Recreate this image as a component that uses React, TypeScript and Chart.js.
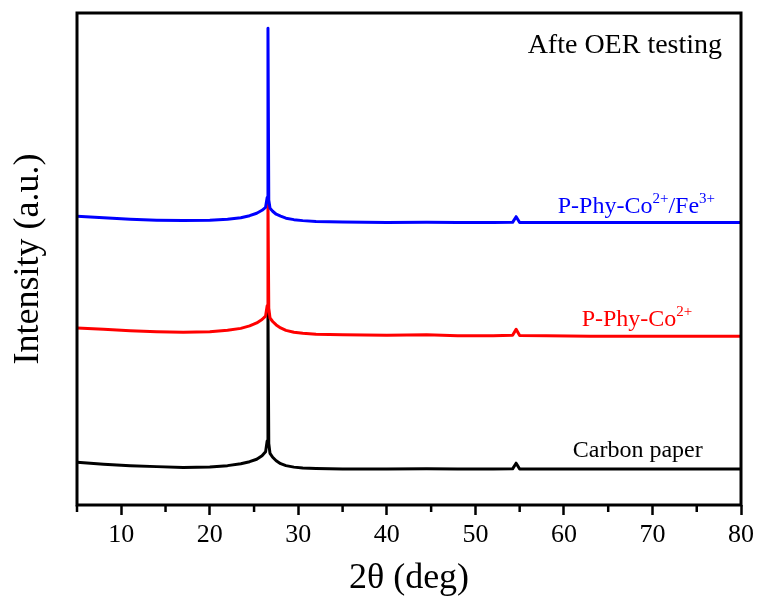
import React, { useEffect, useRef } from 'react';
import { Chart, registerables } from 'chart.js';

Chart.register(...registerables);

const TWO_THETA = [5, 8, 11, 14, 17, 20, 22, 23.5, 24.5, 25.3, 25.9, 26.3, 26.48, 26.57, 26.66, 26.8, 27.1, 27.5, 28.0, 28.6, 29.5, 30.5, 32, 35, 40, 44.5, 48, 52, 54.2, 54.6, 55.0, 58, 63, 68, 73, 77, 80];

const CARBON = [8.7, 8.3, 8.0, 7.8, 7.6, 7.7, 8.0, 8.4, 8.8, 9.3, 10.0, 10.8, 13, 40, 12.5, 10.5, 9.7, 9.0, 8.4, 8.0, 7.7, 7.5, 7.4, 7.3, 7.3, 7.35, 7.3, 7.3, 7.35, 8.5, 7.3, 7.3, 7.3, 7.3, 7.3, 7.3, 7.3];
const CO = [36.0, 35.7, 35.4, 35.2, 35.1, 35.2, 35.5, 35.9, 36.4, 37.0, 37.7, 38.4, 40.5, 62, 40, 38.0, 37.3, 36.6, 36.0, 35.5, 35.1, 34.9, 34.7, 34.6, 34.5, 34.6, 34.4, 34.4, 34.5, 35.7, 34.45, 34.4, 34.3, 34.3, 34.3, 34.3, 34.3];
const COFE = [58.7, 58.4, 58.1, 57.9, 57.8, 57.9, 58.1, 58.4, 58.8, 59.3, 59.9, 60.5, 62.5, 96.9, 62.0, 60.3, 59.7, 59.1, 58.7, 58.3, 58.0, 57.8, 57.6, 57.5, 57.4, 57.45, 57.4, 57.4, 57.45, 58.6, 57.4, 57.4, 57.4, 57.4, 57.4, 57.4, 57.4];

const X_TICKS = [10, 20, 30, 40, 50, 60, 70, 80];
const X_MINOR = [5, 15, 25, 35, 45, 55, 65, 75];

const SERIF = '"Liberation Serif", "Times New Roman", serif';

type Part = { t: string; sup?: boolean };
const LABELS: { parts: Part[]; x: number; y: number; color: string; size: number }[] = [
  { parts: [{ t: 'Afte OER testing' }], x: 55.9, y: 91.9, color: '#000000', size: 28 },
  { parts: [{ t: 'P-Phy-Co' }, { t: '2+', sup: true }, { t: '/Fe' }, { t: '3+', sup: true }], x: 59.3, y: 59.35, color: '#0000ff', size: 24 },
  { parts: [{ t: 'P-Phy-Co' }, { t: '2+', sup: true }], x: 62.0, y: 36.4, color: '#ff0000', size: 24 },
  { parts: [{ t: 'Carbon paper' }], x: 61.0, y: 9.8, color: '#000000', size: 24 },
];

const framePlugin = {
  id: 'frame',
  afterDatasetsDraw(chart: any) {
    const { ctx, chartArea } = chart;
    const xs = chart.scales.x;
    const ys = chart.scales.y;
    ctx.save();
    ctx.strokeStyle = '#000';
    ctx.lineWidth = 3;
    ctx.strokeRect(chartArea.left, chartArea.top, chartArea.right - chartArea.left, chartArea.bottom - chartArea.top);
    ctx.lineWidth = 2.5;
    for (const v of X_MINOR) {
      const px = xs.getPixelForValue(v);
      ctx.beginPath();
      ctx.moveTo(px, chartArea.bottom);
      ctx.lineTo(px, chartArea.bottom + 7);
      ctx.stroke();
    }
    ctx.textAlign = 'left';
    ctx.textBaseline = 'alphabetic';
    for (const lab of LABELS) {
      let px = xs.getPixelForValue(lab.x);
      const py = ys.getPixelForValue(lab.y);
      ctx.fillStyle = lab.color;
      for (const p of lab.parts) {
        const size = p.sup ? Math.round(lab.size * 0.62) : lab.size;
        ctx.font = `${size}px ${SERIF}`;
        const dy = p.sup ? -lab.size * 0.42 : 0;
        ctx.fillText(p.t, px, py + dy);
        px += ctx.measureText(p.t).width;
      }
    }
    ctx.restore();
  },
};

export default function App() {
  const ref = useRef<HTMLCanvasElement>(null);
  useEffect(() => {
    const canvas = ref.current!;
    const mk = (vals: number[]) => TWO_THETA.map((x, i) => ({ x, y: vals[i] }));
    const ds = (label: string, vals: number[], color: string) => ({
      label,
      data: mk(vals),
      borderColor: color,
      borderWidth: 3,
      pointRadius: 0,
      tension: 0,
      fill: false,
      borderJoinStyle: 'round',
    });
    const chart = new Chart(canvas, {
      type: 'line',
      data: {
        datasets: [
          ds('P-Phy-Co2+/Fe3+', COFE, '#0000ff'),
          ds('P-Phy-Co2+', CO, '#ff0000'),
          ds('Carbon paper', CARBON, '#000000'),
        ],
      },
      options: {
        responsive: false,
        animation: false,
        devicePixelRatio: 1,
        layout: { padding: { left: 0, right: 18, top: 13, bottom: 0 } },
        plugins: { legend: { display: false }, tooltip: { enabled: false } },
        scales: {
          x: {
            type: 'linear',
            min: 5,
            max: 80,
            afterBuildTicks: (s: any) => {
              s.ticks = X_TICKS.map((v) => ({ value: v }));
            },
            afterFit: (s: any) => {
              s.height = 95;
            },
            grid: { drawOnChartArea: false, drawTicks: true, tickLength: 10, tickWidth: 2.5, tickColor: '#000', color: '#000' },
            border: { display: false },
            ticks: { color: '#000', font: { family: SERIF, size: 26 }, padding: 5, maxRotation: 0, autoSkip: false },
            title: { display: true, text: '2θ (deg)', color: '#000', font: { family: SERIF, size: 36 }, padding: { top: 0, bottom: 0 } },
          },
          y: {
            type: 'linear',
            min: 0,
            max: 100,
            afterFit: (s: any) => {
              s.width = 77;
            },
            grid: { display: false },
            border: { display: false },
            ticks: { display: false },
            title: { display: true, text: 'Intensity (a.u.)', color: '#000', font: { family: SERIF, size: 36 }, padding: { top: 7, bottom: 0 } },
          },
        },
      },
      plugins: [framePlugin],
    } as any);
    return () => chart.destroy();
  }, []);
  return (
    <div style={{ position: 'absolute', left: 0, top: 0, width: 759, height: 600, background: '#fff' }}>
      <canvas ref={ref} width={759} height={600} style={{ display: 'block', width: 759, height: 600 }} />
    </div>
  );
}
